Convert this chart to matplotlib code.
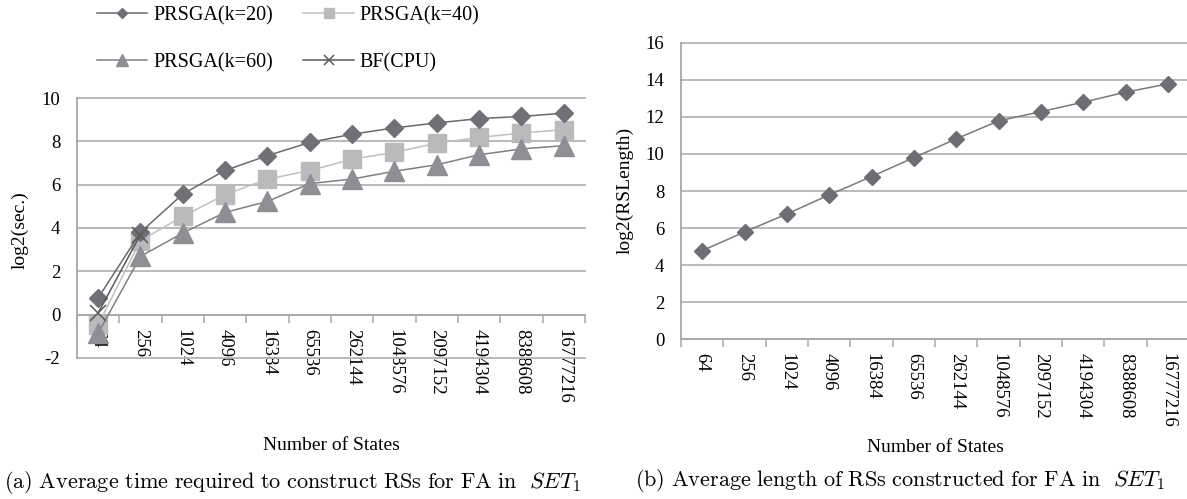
import matplotlib
matplotlib.use("Agg")
import matplotlib.pyplot as plt
from matplotlib.ticker import FixedLocator, NullFormatter, FixedFormatter

plt.rcParams['font.family'] = ['Liberation Serif', 'DejaVu Serif']
plt.rcParams['mathtext.fontset'] = 'cm'

states = ["64", "256", "1024", "4096", "16384", "65536", "262144", "1048576",
          "2097152", "4194304", "8388608", "16777216"]

prsga_k20 = [0.77, 3.8, 5.57, 6.66, 7.34, 7.95, 8.33, 8.62, 8.85, 9.05, 9.15, 9.3]
prsga_k40 = [-0.46, 3.42, 4.54, 5.54, 6.26, 6.65, 7.18, 7.49, 7.92, 8.18, 8.38, 8.54]
prsga_k60 = [-0.85, 2.69, 3.77, 4.72, 5.23, 6.05, 6.26, 6.62, 6.92, 7.38, 7.65, 7.8]
bf_cpu = [0.08, 3.7]

rs_length = [4.78, 5.79, 6.76, 7.79, 8.78, 9.8, 10.81, 11.78, 12.28, 12.79, 13.33, 13.78]

left_yticks = [-2, 0, 2, 4, 6, 8, 10]
right_yticks = [0, 2, 4, 6, 8, 10, 12, 14, 16]

W, H = 1187, 499
fig = plt.figure(figsize=(W / 100, H / 100), dpi=100)

grid_c = '#b4b4b4'
spine_c = '#a8a8a8'
tick_fs = 13.5

def style_axes(ax, yticks, n):
    ax.set_xlim(-0.5, n - 0.5)
    ax.set_ylim(yticks[0], yticks[-1])
    ax.set_yticks(yticks)
    ax.set_yticklabels([str(t) for t in yticks], fontsize=tick_fs)
    ax.tick_params(axis='y', length=0, pad=12)
    ax.grid(axis='y', color=grid_c, linewidth=1.3)
    for gl in ax.get_ygridlines():
        gl.set_clip_on(False)
    ax.set_axisbelow(True)
    for s in ['top', 'right']:
        ax.spines[s].set_visible(False)
    ax.spines['left'].set_color(spine_c)
    ax.spines['left'].set_linewidth(1.3)
    ax.spines['bottom'].set_color(spine_c)
    ax.spines['bottom'].set_linewidth(1.3)
    ax.xaxis.set_major_locator(FixedLocator([i - 0.5 for i in range(n + 1)]))
    ax.xaxis.set_major_formatter(NullFormatter())
    ax.xaxis.set_minor_locator(FixedLocator(list(range(n))))
    ax.xaxis.set_minor_formatter(FixedFormatter(states))
    ax.tick_params(axis='x', which='major', length=5.5, width=1.1, color=spine_c, direction='out')
    ax.tick_params(axis='x', which='minor', length=0, pad=10, labelsize=tick_fs, labelrotation=-90)
    for lab in ax.xaxis.get_minorticklabels():
        lab.set_va('top')
        lab.set_ha('center')

# ---- Left chart
axL = fig.add_axes([77 / W, 1 - 358 / H, 508 / W, 260 / H])
n = len(states)
x = list(range(n))
style_axes(axL, left_yticks, n)
axL.spines['bottom'].set_position(('data', 0))

l20, = axL.plot(x, prsga_k20, color='#6a6a6e', lw=1.1, marker='D', ms=9,
                mfc='#707075', mec='#707075', zorder=4, label='PRSGA(k=20)')
l40, = axL.plot(x, prsga_k40, color='#c0c0c3', lw=1.1, marker='s', ms=13,
                mfc='#bababd', mec='#bababd', zorder=3, label='PRSGA(k=40)')
l60, = axL.plot(x, prsga_k60, color='#808084', lw=1.1, marker='^', ms=14,
                mfc='#8f8f93', mec='#8f8f93', zorder=3, label='PRSGA(k=60)')
lbf, = axL.plot(x[:len(bf_cpu)], bf_cpu, color='#5a5a5a', lw=1.1, marker='x', ms=12,
                mew=1.1, zorder=5, label='BF(CPU)')

fig.legend(handles=[l20, l60, l40, lbf], ncol=2, loc='upper left',
           bbox_to_anchor=(97 / W, 1 - 6 / H), borderaxespad=0, borderpad=0,
           frameon=False, fontsize=14.5, handlelength=2.5, handletextpad=0.3,
           columnspacing=1.5, labelspacing=1.38, markerscale=0.6)

# ---- Right chart
axR = fig.add_axes([681 / W, 1 - 339.3 / H, 508 / W, 296.6 / H])
style_axes(axR, right_yticks, n)
axR.plot(x, rs_length, color='#7a7a7e', lw=1.1, marker='D', ms=8,
         mfc='#6e6e72', mec='#6e6e72', zorder=4)

# ---- Labels
fig.text(20 / W, 1 - 230 / H, 'log2(sec.)', rotation=90, ha='center', va='center', fontsize=14)
fig.text(625 / W, 1 - 190 / H, 'log2(RSLength)', rotation=90, ha='center', va='center', fontsize=14)
fig.text(331 / W, 1 - 446 / H, 'Number of States', ha='center', va='center', fontsize=14)
fig.text(935 / W, 1 - 447 / H, 'Number of States', ha='center', va='center', fontsize=14)

fig.text(4 / W, 1 - 482 / H,
         r'$\mathrm{(a)\ Average\ time\ required\ to\ construct\ RSs\ for\ FA\ in}\ \ SET_1$',
         ha='left', va='center', fontsize=16.0)
fig.text(900 / W, 1 - 480 / H,
         r'$\mathrm{(b)\ Average\ length\ of\ RSs\ constructed\ for\ FA\ in}\ \ SET_1$',
         ha='center', va='center', fontsize=16.0)

fig.savefig('out.png', dpi=100)
